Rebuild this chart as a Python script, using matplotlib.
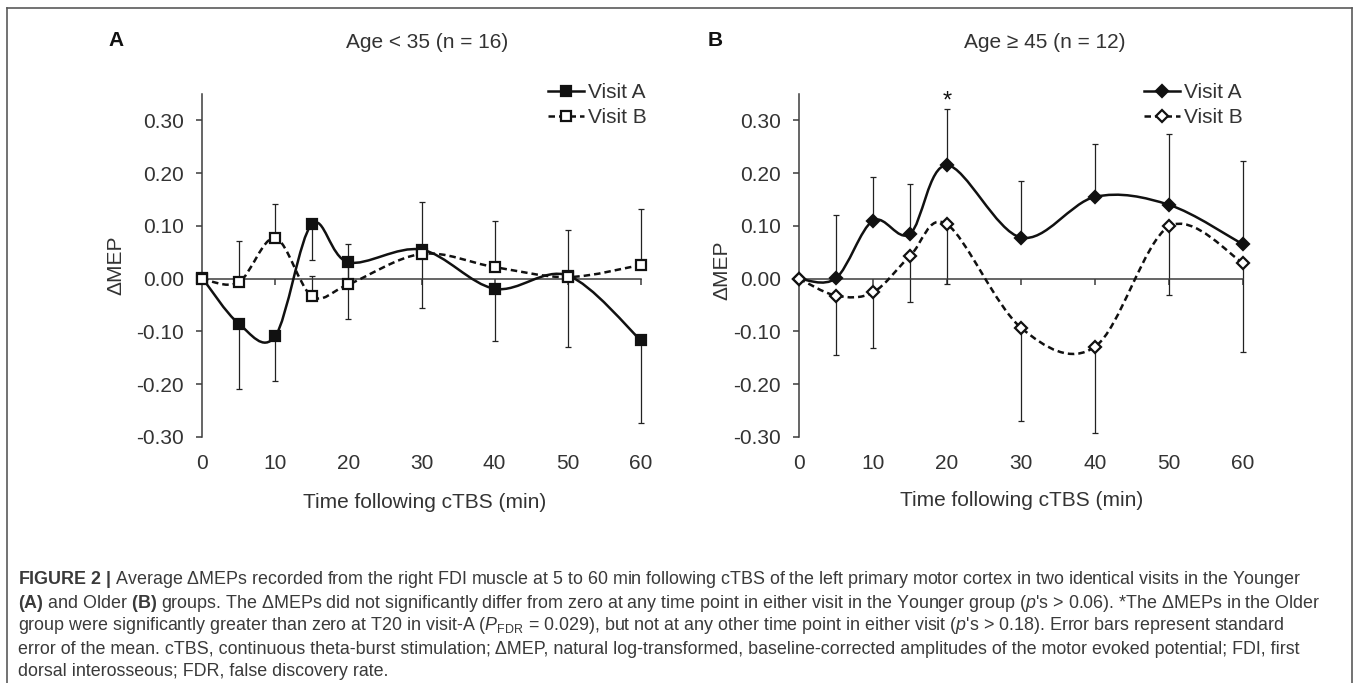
import numpy as np
import matplotlib.pyplot as plt
from matplotlib.path import Path
from matplotlib.patches import PathPatch
from matplotlib.lines import Line2D

plt.rcParams['font.family'] = ['Liberation Sans', 'DejaVu Sans']
plt.rcParams['mathtext.fontset'] = 'custom'
plt.rcParams['mathtext.rm'] = 'Liberation Sans'
plt.rcParams['mathtext.it'] = 'Liberation Sans:italic'
plt.rcParams['mathtext.bf'] = 'Liberation Sans:bold'

# time points (min)
t = [0, 5, 10, 15, 20, 30, 40, 50, 60]

# panel A, age < 35
young_a = [0.002, -0.085, -0.109, 0.103, 0.031, 0.055, -0.019, 0.006, -0.117]
young_b = [0.000, -0.007, 0.077, -0.033, -0.011, 0.047, 0.022, 0.003, 0.026]
young_a_err_lo = [0, 0.124, 0.085, 0.068, 0.108, 0.111, 0.099, 0.136, 0.157]
young_b_err_hi = [0, 0.078, 0.065, 0.039, 0.077, 0.099, 0.088, 0.089, 0.107]

# panel B, age >= 45
old_a = [0.000, 0.001, 0.110, 0.085, 0.215, 0.078, 0.155, 0.140, 0.065]
old_b = [0.000, -0.032, -0.026, 0.043, 0.103, -0.093, -0.129, 0.099, 0.030]
old_a_err_hi = [0, 0.119, 0.082, 0.095, 0.107, 0.108, 0.101, 0.135, 0.158]
old_b_err_lo = [0, 0.113, 0.105, 0.087, 0.114, 0.177, 0.164, 0.129, 0.168]

yticks = [-0.30, -0.20, -0.10, 0.00, 0.10, 0.20, 0.30]
xticks = [0, 10, 20, 30, 40, 50, 60]

DARK = '#333333'
AXC = '#3c3c3c'
FS = 15


def smooth_path(x, y):
    # excel-like smoothed line as cubic bezier through the points
    p = np.column_stack([x, y]).astype(float)
    n = len(p)
    verts = [p[0]]
    codes = [Path.MOVETO]
    for i in range(n - 1):
        p0 = p[i - 1] if i > 0 else p[i]
        p1 = p[i]
        p2 = p[i + 1]
        p3 = p[i + 2] if i + 2 < n else p[i + 1]
        verts += [p1 + (p2 - p0) / 6, p2 - (p3 - p1) / 6, p2]
        codes += [Path.CURVE4] * 3
    return Path(verts, codes)


def draw_series(ax, y, lo, hi, marker, filled, dashed):
    y = np.array(y)
    ax.errorbar(t[1:], y[1:], yerr=[lo[1:], hi[1:]], fmt='none', ecolor='#222222',
                elinewidth=0.9, capsize=2.3, capthick=0.9, zorder=2, clip_on=False)
    ls = (0, (2.6, 1.6)) if dashed else '-'
    ax.add_patch(PathPatch(smooth_path(t, y), fill=False, edgecolor='#111111', lw=1.8,
                           linestyle=ls, zorder=3, clip_on=False))
    ms = 7.8 if marker == 's' else 6.6
    ax.plot(t, y, linestyle='none', marker=marker, ms=ms,
            mfc='#111111' if filled else 'white', mec='#111111',
            mew=1.6, zorder=4, clip_on=False)


fig = plt.figure(figsize=(13.57, 6.83), dpi=100)

axA = fig.add_axes([202 / 1357, 1 - 437 / 683, 439 / 1357, 343 / 683])
axB = fig.add_axes([799 / 1357, 1 - 437 / 683, 444 / 1357, 343 / 683])

for ax in (axA, axB):
    ax.set_xlim(0, 60)
    ax.set_ylim(-0.30, 0.35)
    ax.set_yticks(yticks)
    ax.set_yticklabels([f'{v:.2f}' for v in yticks])
    ax.set_xticks(xticks)
    ax.spines['top'].set_visible(False)
    ax.spines['right'].set_visible(False)
    ax.spines['bottom'].set_position(('data', 0))
    ax.spines['left'].set_color(AXC)
    ax.spines['bottom'].set_color(AXC)
    ax.spines['left'].set_linewidth(1.1)
    ax.spines['bottom'].set_linewidth(1.1)
    ax.tick_params(axis='y', direction='out', length=4, width=1.1, color=AXC,
                   labelsize=FS, labelcolor=DARK, pad=9)
    ax.tick_params(axis='x', direction='out', length=4, width=1.1, color=AXC,
                   labelbottom=False)
    sec = ax.secondary_xaxis(0)
    sec.set_xticks(xticks)
    sec.spines['bottom'].set_visible(False)
    sec.tick_params(length=0, labelsize=FS, labelcolor=DARK, pad=12)
    ax.patch.set_visible(False)

draw_series(axA, young_a, young_a_err_lo, [0] * 9, 's', True, False)
draw_series(axA, young_b, [0] * 9, young_b_err_hi, 's', False, True)
draw_series(axB, old_a, [0] * 9, old_a_err_hi, 'D', True, False)
draw_series(axB, old_b, old_b_err_lo, [0] * 9, 'D', False, True)

axB.text(20, 0.336, '*', ha='center', va='center', fontsize=17, color='#111111')

# legends
for ax, marker, ms, x0 in ((axA, 's', 7.8, 548), (axB, 'D', 6.6, 1144)):
    hA = Line2D([], [], color='#111111', lw=1.8, marker=marker, ms=ms,
                mfc='#111111', mec='#111111', mew=1.6)
    hB = Line2D([], [], color='#111111', lw=1.8, linestyle=(0, (2.6, 1.6)), marker=marker,
                ms=ms, mfc='white', mec='#111111', mew=1.6)
    fig.legend([hA, hB], ['Visit A', 'Visit B'], loc='upper left',
               bbox_to_anchor=(x0 / 1357, 1 - 83 / 683), frameon=False, fontsize=FS,
               handlelength=1.75, handletextpad=0.15, labelspacing=0.28, borderpad=0,
               borderaxespad=0, labelcolor=DARK)

# panel letters, titles, axis labels
fig.text(116 / 1357, 1 - 40 / 683, 'A', fontsize=15, fontweight='bold', ha='center', va='center', color='#111111')
fig.text(715 / 1357, 1 - 40 / 683, 'B', fontsize=15, fontweight='bold', ha='center', va='center', color='#111111')
fig.text(427 / 1357, 1 - 42 / 683, 'Age < 35 (n = 16)', fontsize=15, ha='center', va='center', color=DARK)
fig.text(1045 / 1357, 1 - 42 / 683, 'Age ≥ 45 (n = 12)', fontsize=15, ha='center', va='center', color=DARK)
fig.text(116 / 1357, 1 - 265 / 683, 'ΔMEP', fontsize=15, rotation=90, ha='center', va='center', color=DARK)
fig.text(722 / 1357, 1 - 270 / 683, 'ΔMEP', fontsize=15, rotation=90, ha='center', va='center', color=DARK)
fig.text(425 / 1357, 1 - 503 / 683, 'Time following cTBS (min)', fontsize=15, ha='center', va='center', color=DARK)
fig.text(1022 / 1357, 1 - 500 / 683, 'Time following cTBS (min)', fontsize=15, ha='center', va='center', color=DARK)

# caption
caption = [
    r"$\mathbf{FIGURE\ 2\ |}$ Average ΔMEPs recorded from the right FDI muscle at 5 to 60 min following cTBS of the left primary motor cortex in two identical visits in the Younger",
    r"$\mathbf{(A)}$ and Older $\mathbf{(B)}$ groups. The ΔMEPs did not significantly differ from zero at any time point in either visit in the Younger group ($p$'s > 0.06). *The ΔMEPs in the Older",
    r"group were significantly greater than zero at T20 in visit-A ($P_{\mathrm{FDR}}$ = 0.029), but not at any other time point in either visit ($p$'s > 0.18). Error bars represent standard",
    r"error of the mean. cTBS, continuous theta-burst stimulation; ΔMEP, natural log-transformed, baseline-corrected amplitudes of the motor evoked potential; FDI, first",
    r"dorsal interosseous; FDR, false discovery rate.",
]
cap_y = [580, 603, 626, 649, 671]
for line, yy in zip(caption, cap_y):
    fig.text(18 / 1357, 1 - yy / 683, line, fontsize=12.85, ha='left', va='center', color='#3a3a3a')

# outer frame
fc = '#5a5a5a'
fig.add_artist(Line2D([7 / 1357, 1352 / 1357], [1 - 8 / 683, 1 - 8 / 683], color=fc, lw=1.2, transform=fig.transFigure))
fig.add_artist(Line2D([7 / 1357, 7 / 1357], [1 - 8 / 683, 0], color=fc, lw=1.2, transform=fig.transFigure))
fig.add_artist(Line2D([1352 / 1357, 1352 / 1357], [1 - 8 / 683, 0], color=fc, lw=1.2, transform=fig.transFigure))

fig.savefig('out.png', dpi=100)
